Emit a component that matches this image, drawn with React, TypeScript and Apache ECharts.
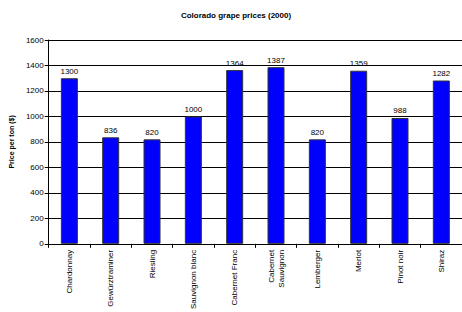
import React, { useEffect, useRef } from "react";
import * as echarts from "echarts";

const categories = [
  "Chardonnay",
  "Gewürztraminer",
  "Riesling",
  "Sauvignon blanc",
  "Cabernet Franc",
  "Cabernet\nSauvignon",
  "Lemberger",
  "Merlot",
  "Pinot noir",
  "Shiraz",
];
const prices = [1300, 836, 820, 1000, 1364, 1387, 820, 1359, 988, 1282];
const yTicks = [0, 200, 400, 600, 800, 1000, 1200, 1400, 1600];

export default function App() {
  const ref = useRef<HTMLDivElement>(null);
  useEffect(() => {
    const chart = echarts.init(ref.current!, null, { renderer: "svg" });
    chart.setOption({
      animation: false,
      backgroundColor: "#ffffff",
      title: {
        text: "Colorado grape prices (2000)",
        left: 231,
        textAlign: "center",
        top: 6,
        textStyle: { fontFamily: "Liberation Sans", fontSize: 8, fontWeight: "bold", color: "#000" },
      },
      grid: { left: 42, top: 40, width: 420, height: 209, containLabel: false },
      xAxis: {
        type: "category",
        data: categories,
        axisLine: { lineStyle: { color: "#000", width: 1 } },
        axisTick: { show: true, alignWithLabel: false, length: 4, inside: false, lineStyle: { color: "#000" } },
        axisLabel: {
          rotate: 90,
          interval: 0,
          margin: 6,
          fontFamily: "Liberation Sans",
          fontSize: 8,
          color: "#000",
          lineHeight: 10,
        },
      },
      yAxis: {
        type: "value",
        min: yTicks[0],
        max: yTicks[yTicks.length - 1],
        interval: 200,
        name: "Price per ton ($)",
        nameLocation: "middle",
        nameGap: 27,
        nameRotate: 90,
        nameTextStyle: { fontFamily: "Liberation Sans", fontSize: 7, fontWeight: "bold", color: "#000" },
        axisLine: { show: true, lineStyle: { color: "#000", width: 1 } },
        axisTick: { show: true, length: 4, lineStyle: { color: "#000" } },
        axisLabel: {
          fontFamily: "Liberation Sans",
          fontSize: 8,
          color: "#000",
          margin: 5,
          formatter: (v: number) => String(v),
        },
        splitLine: { show: true, lineStyle: { color: "#000", width: 1 } },
      },
      series: [
        {
          type: "bar",
          data: prices,
          barWidth: 17,
          itemStyle: { color: "#0000ff", borderColor: "#333", borderWidth: 1 },
          label: {
            show: true,
            position: "top",
            distance: 3,
            fontFamily: "Liberation Sans",
            fontSize: 8,
            color: "#000",
          },
        },
      ],
    });
    return () => chart.dispose();
  }, []);
  return <div ref={ref} style={{ width: 462, height: 312, position: "absolute", left: 0, top: 0 }} />;
}
